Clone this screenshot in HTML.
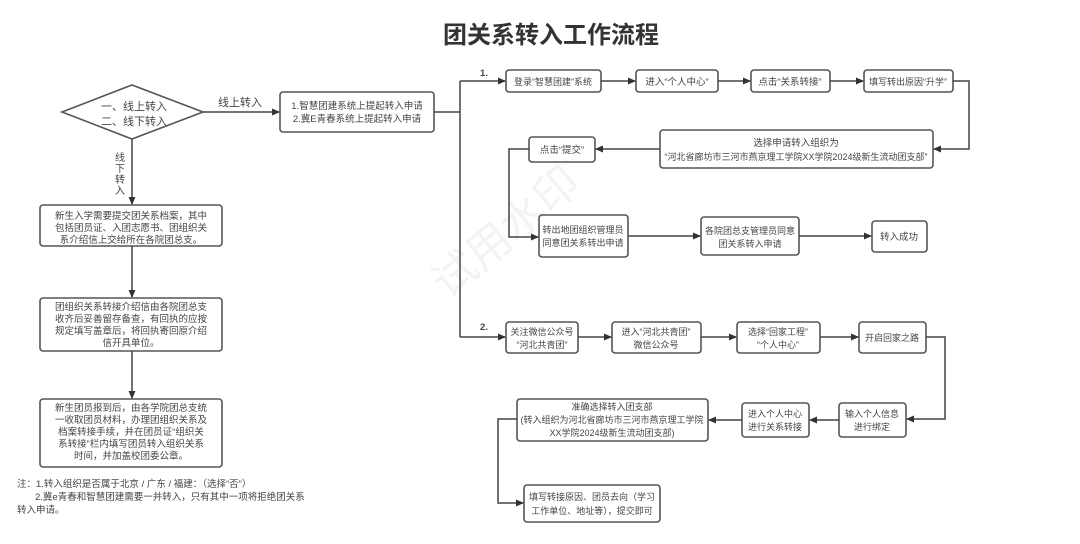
<!DOCTYPE html>
<html><head><meta charset="utf-8"><style>
html,body{margin:0;padding:0;background:#fff;}
svg text{font-family:"Liberation Sans","Noto Sans CJK SC",sans-serif;fill:#444;}
</style></head><body>
<svg width="1080" height="539" viewBox="0 0 1080 539" xmlns="http://www.w3.org/2000/svg">
<defs><marker id="a" markerWidth="8" markerHeight="8" refX="7" refY="4" orient="auto" markerUnits="userSpaceOnUse"><path d="M0,0.5 L8,4 L0,7.5 z" fill="#333"/></marker></defs>
<text x="448" y="300" font-size="44" style="fill:#f3f3f3" transform="rotate(-40 448 300)">试用水印</text>
<text x="551" y="43" font-size="24" font-weight="bold" text-anchor="middle" style="fill:#333">团关系转入工作流程</text>
<g fill="none" stroke="#555" stroke-width="1.6">
<polygon points="62,112 132,85 203,112 132,139" fill="#fff"/>
<rect x="280" y="92" width="154" height="40" rx="3"/>
<rect x="40" y="205" width="182" height="41" rx="3"/>
<rect x="40" y="298" width="182" height="53" rx="3"/>
<rect x="40" y="399" width="182" height="68" rx="3"/>
<rect x="506" y="70" width="95" height="22" rx="3"/>
<rect x="636" y="70" width="82" height="22" rx="3"/>
<rect x="751" y="70" width="79" height="22" rx="3"/>
<rect x="864" y="70" width="89" height="22" rx="3"/>
<rect x="660" y="130" width="273" height="38" rx="3"/>
<rect x="529" y="137" width="66" height="25" rx="3"/>
<rect x="539" y="215" width="89" height="42" rx="3"/>
<rect x="701" y="217" width="98" height="38" rx="3"/>
<rect x="872" y="221" width="55" height="31" rx="3"/>
<rect x="506" y="322" width="72" height="31" rx="3"/>
<rect x="612" y="322" width="89" height="31" rx="3"/>
<rect x="737" y="322" width="83" height="31" rx="3"/>
<rect x="859" y="322" width="67" height="31" rx="3"/>
<rect x="839" y="403" width="67" height="34" rx="3"/>
<rect x="742" y="403" width="67" height="34" rx="3"/>
<rect x="517" y="399" width="191" height="42" rx="3"/>
<rect x="524" y="485" width="136" height="37" rx="3"/>
</g>
<g fill="none" stroke="#444" stroke-width="1.5">
<path d="M203,112 H279" marker-end="url(#a)"/>
<path d="M132,139 V204" marker-end="url(#a)"/>
<path d="M132,246 V297" marker-end="url(#a)"/>
<path d="M132,351 V398" marker-end="url(#a)"/>
<path d="M434,112 H460 M460,81 V337"/>
<path d="M460,81 H505" marker-end="url(#a)"/>
<path d="M601,81 H635" marker-end="url(#a)"/>
<path d="M718,81 H750" marker-end="url(#a)"/>
<path d="M830,81 H863" marker-end="url(#a)"/>
<path d="M953,81 H969 V149 H934" marker-end="url(#a)"/>
<path d="M660,149 H596" marker-end="url(#a)"/>
<path d="M529,149 H509 V237 H538" marker-end="url(#a)"/>
<path d="M628,236 H700" marker-end="url(#a)"/>
<path d="M799,236 H871" marker-end="url(#a)"/>
<path d="M460,337 H505" marker-end="url(#a)"/>
<path d="M578,337 H611" marker-end="url(#a)"/>
<path d="M701,337 H736" marker-end="url(#a)"/>
<path d="M820,337 H858" marker-end="url(#a)"/>
<path d="M926,337 H945 V419 H907" marker-end="url(#a)"/>
<path d="M839,420 H810" marker-end="url(#a)"/>
<path d="M742,420 H709" marker-end="url(#a)"/>
<path d="M517,419 H498 V503 H523" marker-end="url(#a)"/>
</g>
<g font-size="9.5" text-anchor="middle">
<text x="134" y="110" font-size="11">一、线上转入</text>
<text x="134" y="125" font-size="11">二、线下转入</text>
<text x="240" y="106" font-size="11">线上转入</text>
<text x="120" y="161" font-size="10">线</text><text x="120" y="172" font-size="10">下</text><text x="120" y="183" font-size="10">转</text><text x="120" y="194" font-size="10">入</text>
<text x="357" y="109">1.智慧团建系统上提起转入申请</text>
<text x="357" y="122">2.冀E青春系统上提起转入申请</text>
<text x="131" y="219">新生入学需要提交团关系档案，其中</text>
<text x="131" y="231">包括团员证、入团志愿书、团组织关</text>
<text x="131" y="243">系介绍信上交给所在各院团总支。</text>
<text x="131" y="310">团组织关系转接介绍信由各院团总支</text>
<text x="131" y="322">收齐后妥善留存备查，有回执的应按</text>
<text x="131" y="334">规定填写盖章后，将回执寄回原介绍</text>
<text x="131" y="346">信开具单位。</text>
<text x="131" y="411">新生团员报到后，由各学院团总支统</text>
<text x="131" y="423">一收取团员材料，办理团组织关系及</text>
<text x="131" y="435">档案转接手续，并在团员证“组织关</text>
<text x="131" y="447">系转接”栏内填写团员转入组织关系</text>
<text x="131" y="459">时间，并加盖校团委公章。</text>
<text x="17" y="487" text-anchor="start">注：1.转入组织是否属于北京 / 广东 / 福建：（选择“否”）</text>
<text x="35" y="500" text-anchor="start">2.冀e青春和智慧团建需要一并转入，只有其中一项将拒绝团关系</text>
<text x="17" y="513" text-anchor="start">转入申请。</text>
<text x="484" y="76" font-weight="bold">1.</text>
<text x="484" y="330" font-weight="bold">2.</text>
<text x="553" y="85" font-size="9">登录“智慧团建”系统</text>
<text x="677" y="85">进入“个人中心”</text>
<text x="790" y="85">点击“关系转接”</text>
<text x="908" y="85" font-size="9">填写转出原因“升学”</text>
<text x="796" y="146">选择申请转入组织为</text>
<text x="796" y="160" font-size="9">“河北省廊坊市三河市燕京理工学院XX学院2024级新生流动团支部”</text>
<text x="562" y="153">点击“提交”</text>
<text x="583" y="233" font-size="9">转出地团组织管理员</text>
<text x="583" y="246" font-size="9">同意团关系转出申请</text>
<text x="750" y="234" font-size="9">各院团总支管理员同意</text>
<text x="750" y="247" font-size="9">团关系转入申请</text>
<text x="899" y="240">转入成功</text>
<text x="542" y="335" font-size="9">关注微信公众号</text>
<text x="542" y="348" font-size="9">“河北共青团”</text>
<text x="656" y="335" font-size="9">进入“河北共青团”</text>
<text x="656" y="348" font-size="9">微信公众号</text>
<text x="778" y="335" font-size="9">选择“回家工程”</text>
<text x="778" y="348" font-size="9">“个人中心”</text>
<text x="892" y="341" font-size="9">开启回家之路</text>
<text x="872" y="417" font-size="9">输入个人信息</text>
<text x="872" y="430" font-size="9">进行绑定</text>
<text x="775" y="417" font-size="9">进入个人中心</text>
<text x="775" y="430" font-size="9">进行关系转接</text>
<text x="612" y="410" font-size="9">准确选择转入团支部</text>
<text x="612" y="423" font-size="9">(转入组织为河北省廊坊市三河市燕京理工学院</text>
<text x="612" y="436" font-size="9">XX学院2024级新生流动团支部)</text>
<text x="592" y="500" font-size="9">填写转接原因、团员去向（学习</text>
<text x="592" y="514" font-size="9">工作单位、地址等），提交即可</text>
</g>
</svg>
</body></html>
